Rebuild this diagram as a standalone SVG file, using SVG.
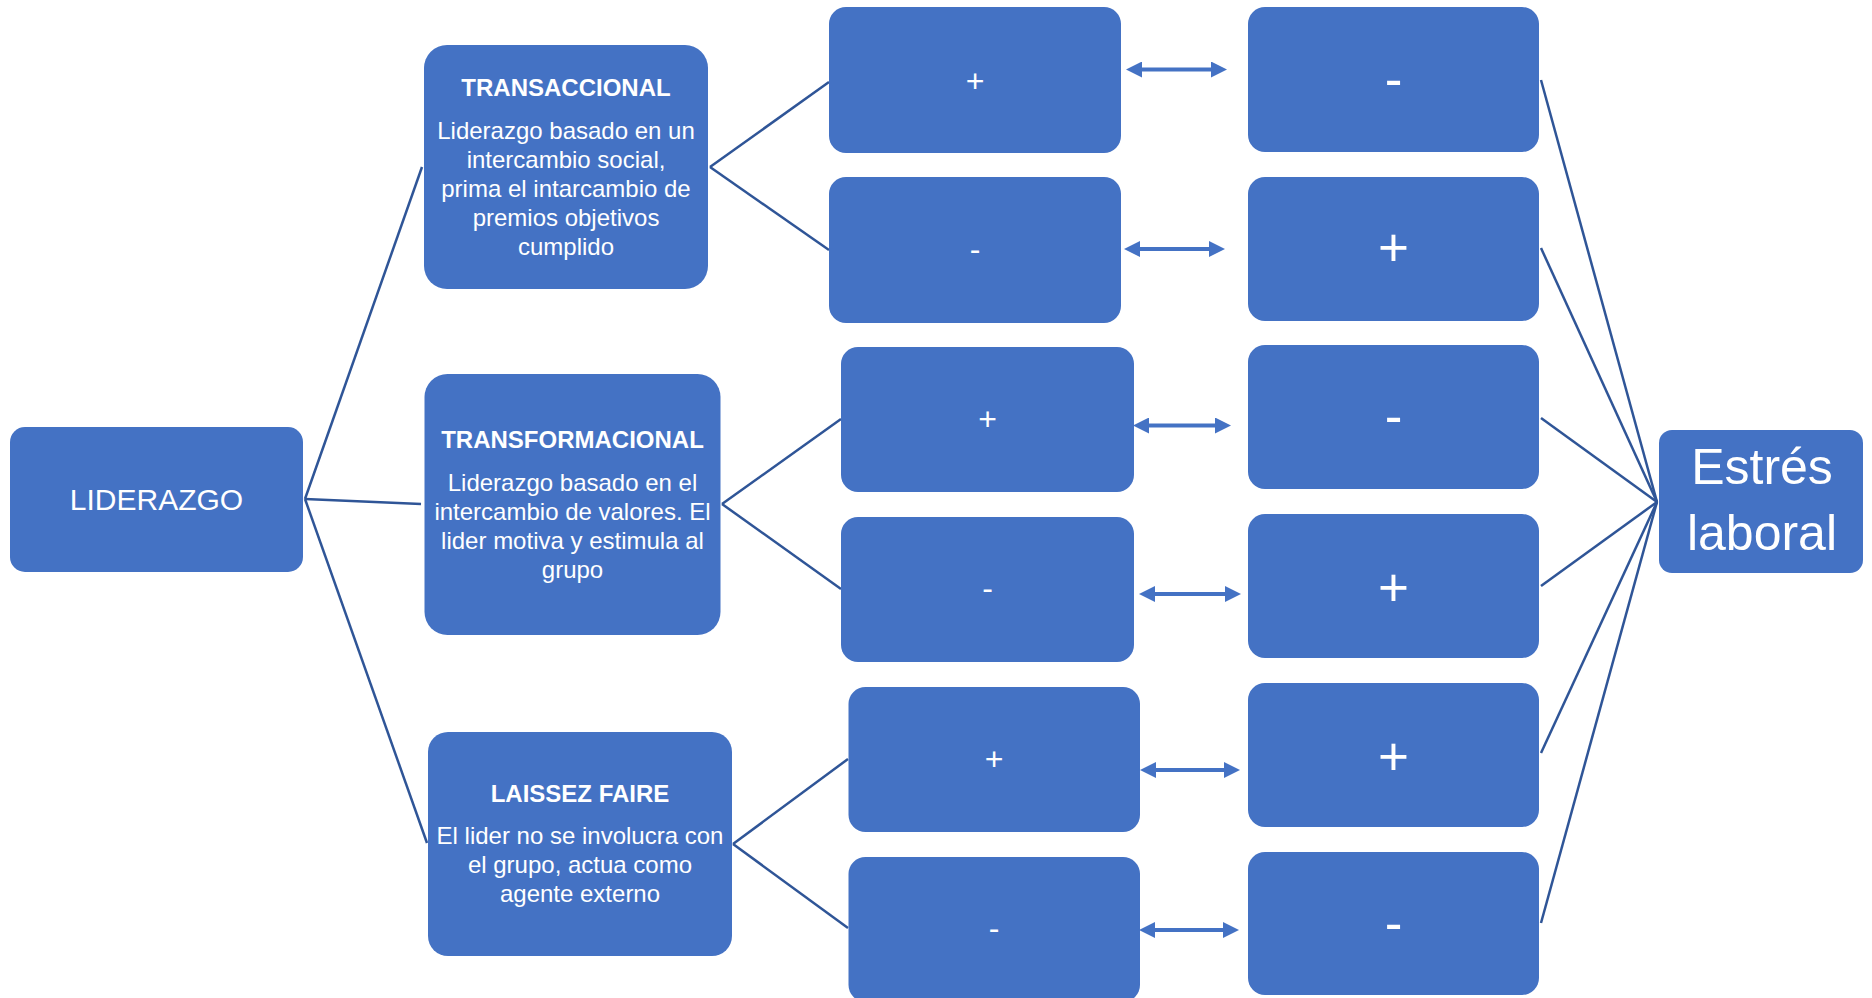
<svg xmlns="http://www.w3.org/2000/svg" width="1872" height="998" viewBox="0 0 1872 998">
<style>
.box{fill:#4472C4;}
.t{font-family:"Liberation Sans",Arial,sans-serif;fill:#ffffff;text-anchor:middle;}
.title{font-size:24px;font-weight:bold;}
.body{font-size:24px;}
.sm{font-size:32px;}
.big{font-size:53px;}
.conn line{stroke:#2F5597;stroke-width:2.5;fill:none;}
.arr line{stroke:#4472C4;stroke-width:4;marker-start:url(#ah);marker-end:url(#ah);}
</style>
<defs>
<marker id="ah" markerUnits="userSpaceOnUse" viewBox="0 0 16 16" markerWidth="16" markerHeight="16" refX="8" refY="8" orient="auto-start-reverse">
<path d="M0,0 L16,8 L0,16 z" fill="#4472C4"/>
</marker>
</defs>
<rect width="1872" height="998" fill="#ffffff"/>

<g id="connectors" class="conn">
<line x1="305" y1="499" x2="422" y2="167"/>
<line x1="305" y1="499" x2="421" y2="504"/>
<line x1="305" y1="499" x2="427" y2="843"/>
<line x1="710" y1="167" x2="829" y2="82"/>
<line x1="710" y1="167" x2="829" y2="250"/>
<line x1="722" y1="504" x2="841" y2="419"/>
<line x1="722" y1="504" x2="841" y2="589"/>
<line x1="733" y1="844" x2="848" y2="759"/>
<line x1="733" y1="844" x2="848" y2="928"/>
<line x1="1541" y1="80" x2="1657" y2="502"/>
<line x1="1541" y1="248" x2="1657" y2="502"/>
<line x1="1541" y1="418" x2="1657" y2="502"/>
<line x1="1541" y1="586" x2="1657" y2="502"/>
<line x1="1541" y1="753" x2="1657" y2="502"/>
<line x1="1541" y1="923" x2="1657" y2="502"/>
</g>

<g id="node-liderazgo">
<rect class="box" x="10" y="427" width="293" height="145" rx="15"/>
<text class="t" x="156.5" y="510" font-size="30">LIDERAZGO</text>
</g>

<g id="node-transaccional">
<rect class="box" x="424" y="45" width="284" height="244" rx="23"/>
<text class="t title" x="566" y="96">TRANSACCIONAL</text>
<text class="t body" x="566" y="138.5">Liderazgo basado en un</text>
<text class="t body" x="566" y="167.7">intercambio social,</text>
<text class="t body" x="566" y="196.9">prima el intarcambio de</text>
<text class="t body" x="566" y="226.1">premios objetivos</text>
<text class="t body" x="566" y="255.3">cumplido</text>
</g>

<g id="node-transformacional">
<rect class="box" x="424.5" y="374" width="296" height="261" rx="23"/>
<text class="t title" x="572.5" y="448">TRANSFORMACIONAL</text>
<text class="t body" x="572.5" y="491">Liderazgo basado en el</text>
<text class="t body" x="572.5" y="520">intercambio de valores. El</text>
<text class="t body" x="572.5" y="549">lider motiva y estimula al</text>
<text class="t body" x="572.5" y="578">grupo</text>
</g>

<g id="node-laissez">
<rect class="box" x="428" y="732" width="304" height="224" rx="20"/>
<text class="t title" x="580" y="802">LAISSEZ FAIRE</text>
<text class="t body" x="580" y="844">El lider no se involucra con</text>
<text class="t body" x="580" y="873">el grupo, actua como</text>
<text class="t body" x="580" y="902">agente externo</text>
</g>

<g id="node-a1">
<rect class="box" x="829" y="7" width="292" height="146" rx="17"/>
<text class="t sm" x="975" y="92">+</text>
</g>
<g id="node-a2">
<rect class="box" x="829" y="177" width="292" height="146" rx="17"/>
<text class="t sm" x="975" y="260">-</text>
</g>
<g id="node-a3">
<rect class="box" x="841" y="347" width="293" height="145" rx="17"/>
<text class="t sm" x="987.5" y="430">+</text>
</g>
<g id="node-a4">
<rect class="box" x="841" y="517" width="293" height="145" rx="17"/>
<text class="t sm" x="987.5" y="599">-</text>
</g>
<g id="node-a5">
<rect class="box" x="848.5" y="687" width="291.5" height="145" rx="17"/>
<text class="t sm" x="994" y="770">+</text>
</g>
<g id="node-a6">
<rect class="box" x="848.5" y="857" width="291.5" height="145" rx="17"/>
<text class="t sm" x="994" y="939">-</text>
</g>

<g id="node-b1">
<rect class="box" x="1248" y="7" width="291" height="145" rx="17"/>
<text class="t big" x="1393.5" y="97">-</text>
</g>
<g id="node-b2">
<rect class="box" x="1248" y="177" width="291" height="144" rx="17"/>
<text class="t big" x="1393.5" y="266">+</text>
</g>
<g id="node-b3">
<rect class="box" x="1248" y="345" width="291" height="144" rx="17"/>
<text class="t big" x="1393.5" y="434">-</text>
</g>
<g id="node-b4">
<rect class="box" x="1248" y="514" width="291" height="144" rx="17"/>
<text class="t big" x="1393.5" y="606">+</text>
</g>
<g id="node-b5">
<rect class="box" x="1248" y="683" width="291" height="144" rx="17"/>
<text class="t big" x="1393.5" y="775">+</text>
</g>
<g id="node-b6">
<rect class="box" x="1248" y="852" width="291" height="143" rx="17"/>
<text class="t big" x="1393.5" y="941">-</text>
</g>

<g id="node-estres">
<rect class="box" x="1659" y="430" width="204" height="143" rx="13"/>
<text class="t" x="1762" y="484" font-size="50">Estrés</text>
<text class="t" x="1762" y="550" font-size="50">laboral</text>
</g>

<g id="arrows" class="arr">
<line x1="1134" y1="69.5" x2="1219" y2="69.5"/>
<line x1="1132" y1="249" x2="1217" y2="249"/>
<line x1="1141" y1="425.5" x2="1223" y2="425.5"/>
<line x1="1147" y1="594" x2="1233" y2="594"/>
<line x1="1148" y1="770" x2="1232" y2="770"/>
<line x1="1147" y1="930" x2="1231" y2="930"/>
</g>
</svg>
